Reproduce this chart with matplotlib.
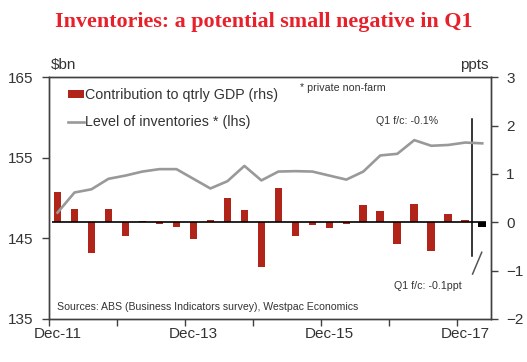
import matplotlib.pyplot as plt
import numpy as np
from matplotlib.lines import Line2D
from matplotlib.patches import Patch

plt.rcParams['font.family'] = ['Liberation Sans', 'DejaVu Sans']

# quarterly categories, Dec-11 .. Mar-18
quarters = ["Dec-11", "Mar-12", "Jun-12", "Sep-12", "Dec-12", "Mar-13", "Jun-13",
            "Sep-13", "Dec-13", "Mar-14", "Jun-14", "Sep-14", "Dec-14", "Mar-15",
            "Jun-15", "Sep-15", "Dec-15", "Mar-16", "Jun-16", "Sep-16", "Dec-16",
            "Mar-17", "Jun-17", "Sep-17", "Dec-17", "Mar-18"]

# contribution to quarterly GDP, ppts (rhs); last one is the Q1 forecast
contribution = [0.63, 0.28, -0.63, 0.28, -0.28, 0.03, -0.03, -0.09, -0.34, 0.05,
                0.50, 0.25, -0.92, 0.71, -0.28, -0.05, -0.11, -0.03, 0.36, 0.23,
                -0.44, 0.38, -0.59, 0.18, 0.05]
forecast = -0.1

# level of private non-farm inventories, $bn (lhs)
inventories = [148.2, 150.7, 151.1, 152.4, 152.8, 153.3, 153.6, 153.6, 152.4, 151.2,
               152.1, 154.0, 152.2, 153.3, 153.35, 153.3, 152.8, 152.3, 153.3, 155.3,
               155.5, 157.2, 156.5, 156.6, 156.9, 156.8]

tick_labels = ["Dec-11", "Dec-13", "Dec-15", "Dec-17"]

txt = '#333333'
bar_red = '#B0241A'
spine_col = '#404040'

fig = plt.figure(figsize=(5.27, 3.62), dpi=100)
ax = fig.add_axes([0.093, 0.1188, 0.8382, 0.6677])
ax2 = ax.twinx()

x = np.arange(len(quarters)) + 0.5

# bars on the right axis
ax2.bar(x[:len(contribution)], contribution, width=0.45, color=bar_red, zorder=2)
ax2.bar(x[-1], forecast, width=0.45, color='black', zorder=2)
ax2.hlines(0, 0.2, 25.75, color='black', lw=1.2, zorder=3)
ax2.plot([24.9, 24.9], [2.13, -0.70], color='black', lw=1.1, zorder=3)
ax2.plot([24.93, 25.47], [-1.07, -0.62], color='#555555', lw=1.1, zorder=3)
ax2.set_ylim(-2, 3)
ax2.set_yticks(range(-2, 4))

# line on the left axis, drawn above the bars
ax.plot(x, inventories, color='#999999', lw=1.9, solid_joinstyle='round')
ax.set_zorder(ax2.get_zorder() + 1)
ax.patch.set_visible(False)
ax.set_ylim(135, 165)
ax.set_yticks([135, 145, 155, 165])
ax.set_xlim(0, 26)

ax.set_xticks(range(0, 25, 4))
ax.set_xticklabels([])
ax.set_xticks([0.5, 8.5, 16.5, 24.5], minor=True)
ax.set_xticklabels(tick_labels, minor=True)
ax.tick_params(axis='x', which='major', direction='out', length=5, width=1, color=spine_col)
ax.tick_params(axis='x', which='minor', length=0, pad=6, labelsize=11, labelcolor=txt)
ax.tick_params(axis='y', direction='out', length=5, width=1, color=spine_col,
               pad=6, labelsize=11, labelcolor=txt)
ax2.tick_params(axis='y', direction='out', length=5, width=1, color=spine_col,
                pad=6, labelsize=11, labelcolor=txt)

for a in (ax, ax2):
    for s in a.spines.values():
        s.set_color(spine_col)
        s.set_linewidth(1.0)

ax.text(0.005, 1.02, "$bn", transform=ax.transAxes, fontsize=11, color=txt, va='bottom')
ax.text(0.995, 1.02, "ppts", transform=ax.transAxes, fontsize=11, color=txt,
        va='bottom', ha='right')

handles = [Patch(facecolor=bar_red, edgecolor='none'),
           Line2D([0], [0], color='#999999', lw=1.9)]
ax.legend(handles, ["Contribution to qtrly GDP (rhs)", "Level of inventories * (lhs)"],
          loc='upper left', bbox_to_anchor=(0.03, 0.98), frameon=False, fontsize=10.3,
          labelcolor=txt, handlelength=1.1, handleheight=0.45, handletextpad=0.1,
          labelspacing=0.95, borderaxespad=0)

ax.text(0.568, 0.955, "* private non-farm", transform=ax.transAxes, fontsize=7.7,
        color=txt, va='center')
ax2.text(22.9, 2.1, "Q1 f/c: -0.1%", fontsize=7.7, color=txt, ha='right', va='center')
ax2.text(24.3, -1.31, "Q1 f/c: -0.1ppt", fontsize=7.7, color=txt, ha='right', va='center')
ax.text(0.017, 0.05, "Sources: ABS (Business Indicators survey), Westpac Economics",
        transform=ax.transAxes, fontsize=7.55, color=txt, va='center')

fig.text(0.5, 0.94, "Inventories: a potential small negative in Q1",
         fontsize=15.8, fontweight='bold', color='#E8202A', ha='center', va='center',
         family=['Liberation Serif', 'DejaVu Serif'])

fig.savefig("out.png", dpi=100)
